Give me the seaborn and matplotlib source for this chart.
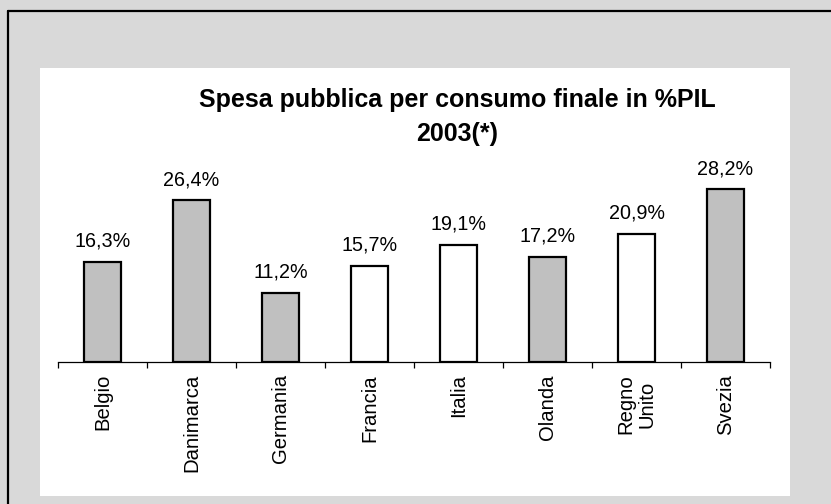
import matplotlib
matplotlib.use("Agg")
import matplotlib.pyplot as plt
import seaborn as sns
from matplotlib.patches import Rectangle
from matplotlib.lines import Line2D

countries = ["Belgio", "Danimarca", "Germania", "Francia", "Italia", "Olanda", "Regno\nUnito", "Svezia"]
values = [16.3, 26.4, 11.2, 15.7, 19.1, 17.2, 20.9, 28.2]
labels = ["16,3%", "26,4%", "11,2%", "15,7%", "19,1%", "17,2%", "20,9%", "28,2%"]
fills = ["#c0c0c0", "#c0c0c0", "#c0c0c0", "#ffffff", "#ffffff", "#c0c0c0", "#ffffff", "#c0c0c0"]
title_line1 = "Spesa pubblica per consumo finale in %PIL"
title_line2 = "2003(*)"

sns.set_theme(style="white")
plt.rcParams['font.family'] = ['Liberation Sans', 'DejaVu Sans']
plt.rcParams['text.color'] = 'black'
plt.rcParams['xtick.color'] = 'black'

W, H = 831, 504
fig = plt.figure(figsize=(W / 100, H / 100), dpi=100)
fig.patch.set_facecolor("#d9d9d9")

# white inner panel
fig.patches.append(Rectangle((40 / W, 1 - 496 / H), (790 - 40) / W, (496 - 68) / H,
                             transform=fig.transFigure, facecolor="white", edgecolor="none", zorder=-5))
# outer border (top and left visible)
fig.lines.append(Line2D([8 / W, 1.0], [1 - 11 / H, 1 - 11 / H], transform=fig.transFigure,
                        color="black", lw=1.6, zorder=-4))
fig.lines.append(Line2D([8 / W, 8 / W], [1 - 11 / H, 0.0], transform=fig.transFigure,
                        color="black", lw=1.6, zorder=-4))

ax_top, ax_bottom = 140, 361.5
ax = fig.add_axes([58 / W, 1 - ax_bottom / H, (770 - 58) / W, (ax_bottom - ax_top) / H])
ax.set_zorder(2)
ax.patch.set_alpha(0)

sns.barplot(x=countries, y=values, hue=countries, palette=fills, legend=False,
            edgecolor="black", linewidth=1.6, width=0.41, ax=ax, saturation=1)

ax.set_ylim(0, (ax_bottom - ax_top) / 6.1)
ax.set_xlim(-0.5, len(countries) - 0.5)

for i, (v, lab) in enumerate(zip(values, labels)):
    ax.annotate(lab, (i, v), xytext=(0, 11), textcoords="offset points",
                ha="center", va="baseline", fontsize=14.2, color="black")

for s in ["left", "right", "top"]:
    ax.spines[s].set_visible(False)
ax.spines["bottom"].set_color("black")
ax.spines["bottom"].set_linewidth(0.9)
ax.set_yticks([])
ax.set_xlabel("")
ax.set_ylabel("")

ax.set_xticks(range(len(countries)))
ax.set_xticklabels(countries, rotation=90, va="top", ha="center", multialignment="center",
                   fontsize=14.6, color="black", linespacing=1.2)
ax.tick_params(axis="x", which="major", length=0, pad=9)
ax.set_xticks([i - 0.5 for i in range(len(countries) + 1)], minor=True)
ax.tick_params(axis="x", which="minor", length=4.5, width=0.9, color="black", direction="out",
               bottom=True)

fig.text(457 / W, 1 - 107.3 / H, title_line1, ha="center", va="baseline",
         fontsize=18, fontweight="bold", color="black")
fig.text(457 / W, 1 - 140.5 / H, title_line2, ha="center", va="baseline",
         fontsize=18, fontweight="bold", color="black")

fig.savefig("out.png", dpi=100, facecolor=fig.get_facecolor())
